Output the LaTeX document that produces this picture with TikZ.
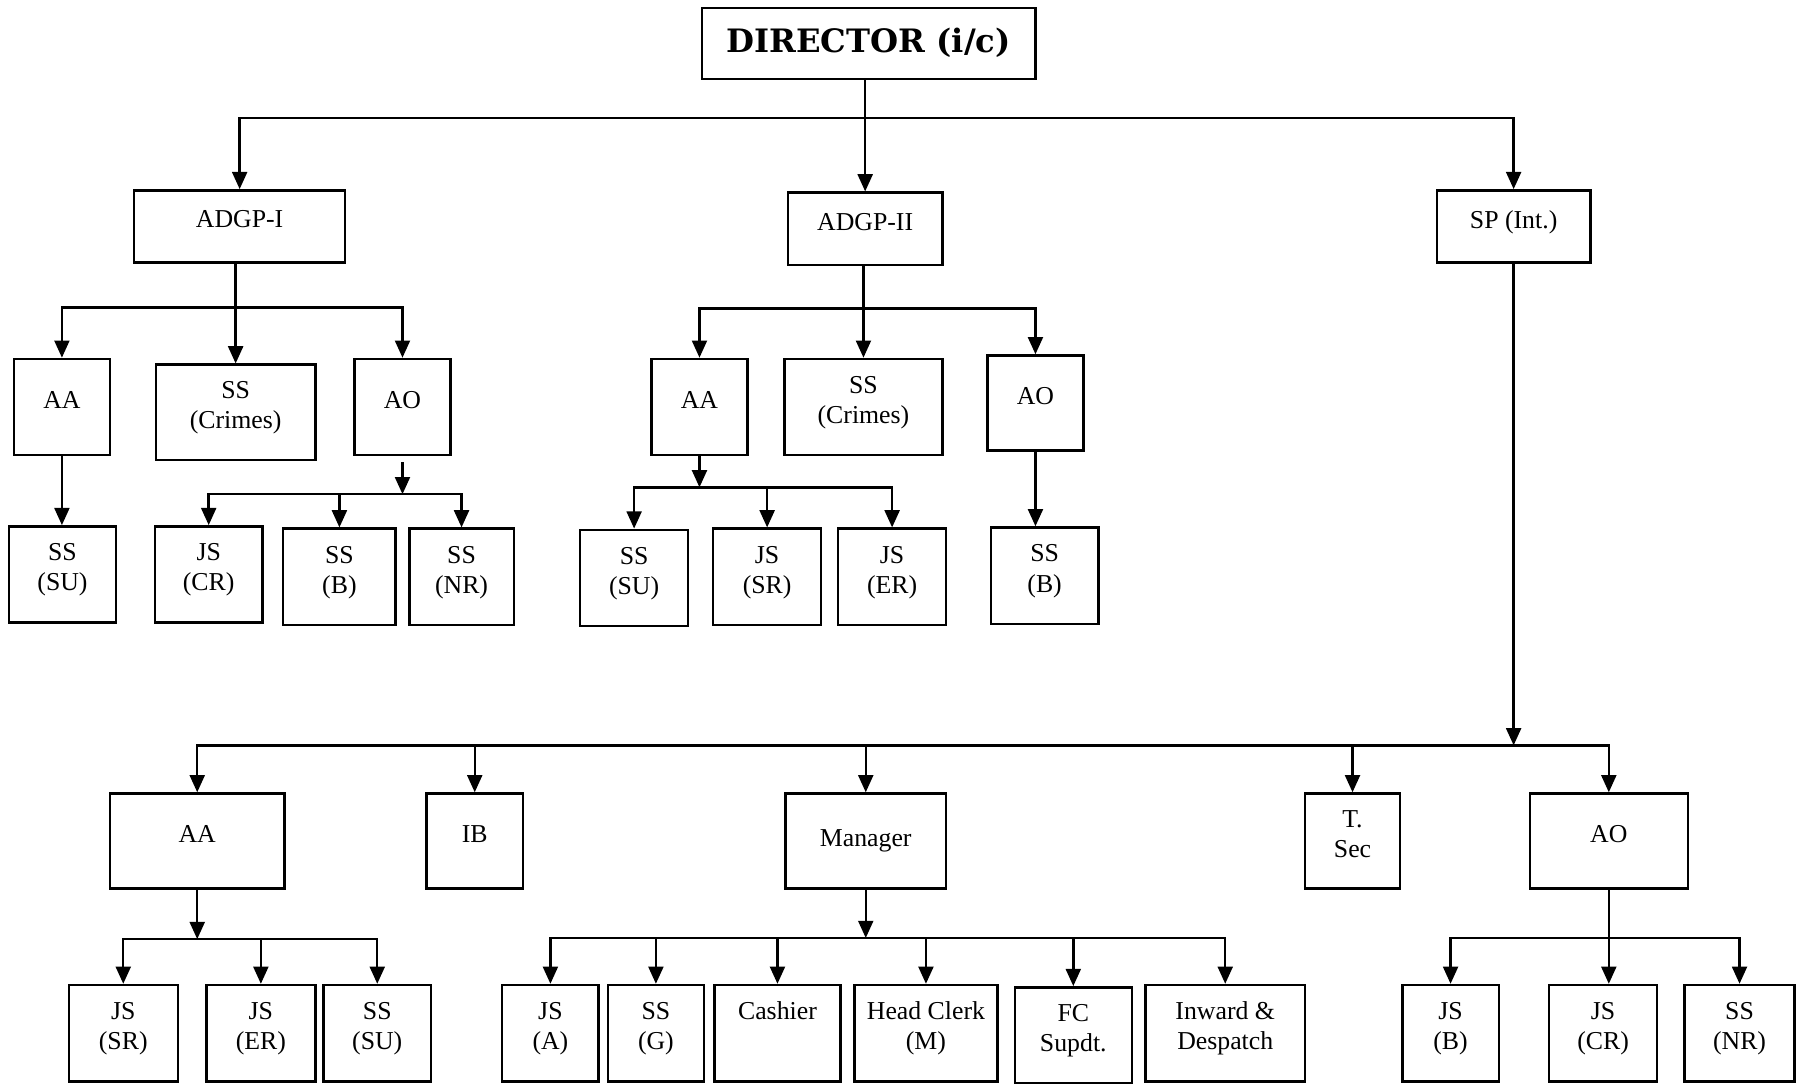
\documentclass[tikz,border=0pt]{standalone}
\usepackage{fontspec}
\setmainfont{Liberation Serif}
\newfontfamily\dirfont{DejaVu Serif}
\usetikzlibrary{arrows.meta}

\begin{document}
\begin{tikzpicture}[x=0.02cm, y=-0.02cm,
		unit/.style={draw, line width=1.2pt, inner sep=2pt, align=center, text depth=0.25cm, font=\fontsize{12.8}{14.9}\selectfont},
		arr/.style={line width=1.2pt, -{Triangle[length=0.3cm, width=0.26cm]}}]
		\useasboundingbox (0,0) rectangle (1568,945);
		\node[unit, minimum width=5.82cm, minimum height=1.24cm, text depth=0.12cm, font=\dirfont\bfseries\fontsize{16}{18}\selectfont] (dir) at (757.5,38) {DIRECTOR (i/c)};
		\node[unit, minimum width=3.68cm, minimum height=1.26cm] (adgp1) at (209,197.5) {ADGP-I};
		\node[unit, minimum width=2.70cm, minimum height=1.26cm] (adgp2) at (754.5,199.5) {ADGP-II};
		\node[unit, minimum width=2.68cm, minimum height=1.26cm] (sp) at (1320,197.5) {SP (Int.)};
		\node[unit, minimum width=1.68cm, minimum height=1.68cm] (aa1) at (54,355) {AA};
		\node[unit, minimum width=2.78cm, minimum height=1.66cm] (ssc1) at (205.5,359.5) {SS\\(Crimes)};
		\node[unit, minimum width=1.68cm, minimum height=1.68cm] (ao1) at (351,355) {AO};
		\node[unit, minimum width=1.86cm, minimum height=1.68cm] (ssu1) at (54.5,501) {SS\\(SU)};
		\node[unit, minimum width=1.88cm, minimum height=1.68cm] (jscr1) at (182,501) {JS\\(CR)};
		\node[unit, minimum width=1.96cm, minimum height=1.68cm] (ssb1) at (296,503) {SS\\(B)};
		\node[unit, minimum width=1.82cm, minimum height=1.68cm] (ssnr1) at (402.5,503) {SS\\(NR)};
		\node[unit, minimum width=1.68cm, minimum height=1.68cm] (aa2) at (610,355) {AA};
		\node[unit, minimum width=2.76cm, minimum height=1.68cm] (ssc2) at (753,355) {SS\\(Crimes)};
		\node[unit, minimum width=1.68cm, minimum height=1.66cm] (ao2) at (903,351.5) {AO};
		\node[unit, minimum width=1.88cm, minimum height=1.68cm] (ssu2) at (553,504) {SS\\(SU)};
		\node[unit, minimum width=1.88cm, minimum height=1.68cm] (jssr2) at (669,503) {JS\\(SR)};
		\node[unit, minimum width=1.88cm, minimum height=1.68cm] (jser2) at (778,503) {JS\\(ER)};
		\node[unit, minimum width=1.88cm, minimum height=1.68cm] (ssb2) at (911,502) {SS\\(B)};
		\node[unit, minimum width=3.04cm, minimum height=1.66cm] (aa3) at (172,733.5) {AA};
		\node[unit, minimum width=1.68cm, minimum height=1.66cm] (ib) at (414,733.5) {IB};
		\node[unit, minimum width=2.80cm, minimum height=1.66cm, text depth=0.12cm] (mgr) at (755,733.5) {Manager};
		\node[unit, minimum width=1.66cm, minimum height=1.66cm] (tsec) at (1179.5,733.5) {T.\\Sec};
		\node[unit, minimum width=2.76cm, minimum height=1.66cm] (ao3) at (1403,733.5) {AO};
		\node[unit, minimum width=1.90cm, minimum height=1.68cm] (jssr3) at (107.5,901) {JS\\(SR)};
		\node[unit, minimum width=1.90cm, minimum height=1.68cm] (jser3) at (227.5,901) {JS\\(ER)};
		\node[unit, minimum width=1.88cm, minimum height=1.68cm] (ssu3) at (329,901) {SS\\(SU)};
		\node[unit, minimum width=1.68cm, minimum height=1.68cm] (jsa) at (480,901) {JS\\(A)};
		\node[unit, minimum width=1.68cm, minimum height=1.68cm] (ssg) at (572,901) {SS\\(G)};
		\node[unit, minimum width=2.20cm, minimum height=1.68cm] (cash) at (678,901) {Cashier\\\strut};
		\node[unit, minimum width=2.50cm, minimum height=1.68cm] (hc) at (807.5,901) {Head Clerk\\(M)};
		\node[unit, minimum width=2.04cm, minimum height=1.68cm] (fc) at (936,903) {FC\\Supdt.};
		\node[unit, minimum width=2.78cm, minimum height=1.68cm] (iw) at (1068.5,901) {Inward \&\\Despatch};
		\node[unit, minimum width=1.68cm, minimum height=1.68cm] (jsb) at (1265,901) {JS\\(B)};
		\node[unit, minimum width=1.88cm, minimum height=1.68cm] (jscr3) at (1398,901) {JS\\(CR)};
		\node[unit, minimum width=1.92cm, minimum height=1.68cm] (ssnr3) at (1517,901) {SS\\(NR)};
		\coordinate (bus0) at (0,103);
		\coordinate (bus1) at (0,268);
		\coordinate (bus2) at (0,431);
		\coordinate (bus3) at (0,269);
		\coordinate (bus4) at (0,425);
		\coordinate (bus5) at (0,650);
		\coordinate (bus6) at (0,819);
		\coordinate (bus7) at (0,818);
		\coordinate (bus8) at (0,818);
		\draw[arr] (adgp2.north |- dir.south) -- (adgp2.north);
		\draw[arr] (adgp2.north |- bus0) -| (adgp1.north);
		\draw[arr] (adgp2.north |- bus0) -| (sp.north);
		\draw[arr] (ssc1.north |- adgp1.south) -- (ssc1.north);
		\draw[arr] (ssc1.north |- bus1) -| (aa1.north);
		\draw[arr] (ssc1.north |- bus1) -| (ao1.north);
		\draw[arr] (aa1.south) -- (aa1.south |- ssu1.north);
		\draw[arr, shorten <=0.1cm] (ao1.south) -- (ao1.south |- bus2);
		\draw[arr] (ao1.south |- bus2) -| (jscr1.north);
		\draw[arr] (ao1.south |- bus2) -| (ssnr1.north);
		\draw[arr] (ssb1.north |- bus2) -- (ssb1.north);
		\draw[arr] (ssc2.north |- adgp2.south) -- (ssc2.north);
		\draw[arr] (ssc2.north |- bus3) -| (aa2.north);
		\draw[arr] (ssc2.north |- bus3) -| (ao2.north);
		\draw[arr] (aa2.south) -- (aa2.south |- bus4);
		\draw[arr] (aa2.south |- bus4) -| (ssu2.north);
		\draw[arr] (aa2.south |- bus4) -| (jser2.north);
		\draw[arr] (jssr2.north |- bus4) -- (jssr2.north);
		\draw[arr] (ao2.south) -- (ao2.south |- ssb2.north);
		\draw[arr] (sp.south) -- (sp.south |- bus5);
		\draw[arr] (sp.south |- bus5) -| (aa3.north);
		\draw[arr] (sp.south |- bus5) -| (ao3.north);
		\draw[arr] (ib.north |- bus5) -- (ib.north);
		\draw[arr] (mgr.north |- bus5) -- (mgr.north);
		\draw[arr] (tsec.north |- bus5) -- (tsec.north);
		\draw[arr] (aa3.south) -- (aa3.south |- bus6);
		\draw[arr] (aa3.south |- bus6) -| (jssr3.north);
		\draw[arr] (aa3.south |- bus6) -| (ssu3.north);
		\draw[arr] (jser3.north |- bus6) -- (jser3.north);
		\draw[arr] (mgr.south) -- (mgr.south |- bus7);
		\draw[arr] (mgr.south |- bus7) -| (jsa.north);
		\draw[arr] (mgr.south |- bus7) -| (iw.north);
		\draw[arr] (ssg.north |- bus7) -- (ssg.north);
		\draw[arr] (cash.north |- bus7) -- (cash.north);
		\draw[arr] (hc.north |- bus7) -- (hc.north);
		\draw[arr] (fc.north |- bus7) -- (fc.north);
		\draw[arr] (ao3.south) -- (ao3.south |- jscr3.north);
		\draw[arr] (ao3.south |- bus8) -| (jsb.north);
		\draw[arr] (ao3.south |- bus8) -| (ssnr3.north);
	\end{tikzpicture}
\end{document}
